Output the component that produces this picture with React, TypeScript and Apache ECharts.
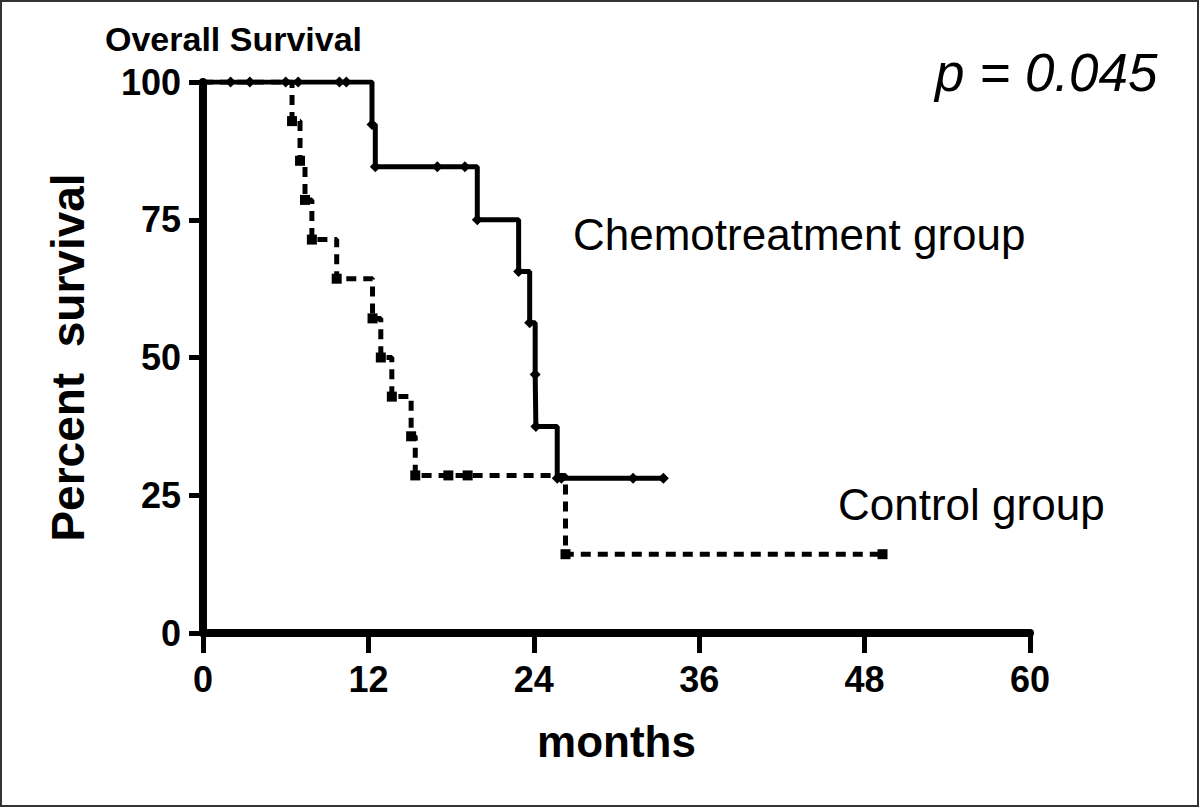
import React, { useEffect, useRef } from "react";
import * as echarts from "echarts";

// Kaplan-Meier steps [months, percent survival]; repeated values are censor marks
const chemoMonths = [0, 2.0, 3.4, 6.0, 6.9, 9.9, 10.4, 12.26, 12.5, 17.0, 19.0, 19.9, 22.9, 23.7, 24.1, 24.15, 25.7, 26.0, 31.2, 33.4];
const chemoSurvival = [100, 100, 100, 100, 100, 100, 100, 92.3, 84.6, 84.6, 84.6, 75.0, 65.6, 56.3, 46.9, 37.5, 28.1, 28.1, 28.1, 28.1];

const controlMonths = [0, 6.46, 7.04, 7.4, 7.9, 9.7, 12.3, 12.9, 13.7, 15.1, 15.4, 17.8, 19.2, 26.3, 49.3];
const controlSurvival = [100, 92.9, 85.7, 78.6, 71.4, 64.3, 57.1, 50.0, 42.9, 35.7, 28.6, 28.6, 28.6, 14.3, 14.3];

const xTicks = [0, 12, 24, 36, 48, 60];
const yTicks = [0, 25, 50, 75, 100];

const FONT = '"Liberation Sans", Arial, sans-serif';

export default function App() {
  const ref = useRef<HTMLDivElement>(null);
  useEffect(() => {
    if (!ref.current) return;
    const chart = echarts.init(ref.current, null, { renderer: "svg" });
    const toData = (ms: number[], ss: number[]) =>
      ms.map((m, i) => (i === 0 ? { value: [m, ss[i]], symbol: "none" } : { value: [m, ss[i]] }));
    chart.setOption({
      animation: false,
      backgroundColor: "#ffffff",
      grid: { left: 203, right: 170, top: 82, bottom: 175, containLabel: false },
      xAxis: {
        type: "value",
        min: xTicks[0],
        max: xTicks[xTicks.length - 1],
        interval: 12,
        name: "months",
        nameLocation: "middle",
        nameGap: 86,
        nameTextStyle: { fontFamily: FONT, fontWeight: "bold", fontSize: 44, color: "#000" },
        axisLine: { show: true, onZero: false, lineStyle: { color: "#000", width: 8 } },
        axisTick: { show: true, inside: false, length: 20, lineStyle: { color: "#000", width: 5 } },
        axisLabel: { margin: 28, fontFamily: FONT, fontWeight: "bold", fontSize: 36, color: "#000" },
        splitLine: { show: false },
      },
      yAxis: {
        type: "value",
        min: yTicks[0],
        max: yTicks[yTicks.length - 1],
        interval: 25,
        name: "Percent  survival",
        nameLocation: "middle",
        nameGap: 112,
        nameRotate: 90,
        nameTextStyle: { fontFamily: FONT, fontWeight: "bold", fontSize: 46, color: "#000" },
        axisLine: { show: true, onZero: false, lineStyle: { color: "#000", width: 8 } },
        axisTick: { show: true, length: 14, lineStyle: { color: "#000", width: 5 } },
        axisLabel: { margin: 22, fontFamily: FONT, fontWeight: "bold", fontSize: 36, color: "#000" },
        splitLine: { show: false },
      },
      series: [
        {
          name: "Chemotreatment group",
          type: "line",
          step: "end",
          data: toData(chemoMonths, chemoSurvival),
          lineStyle: { color: "#000", width: 5 },
          symbol: "diamond",
          symbolSize: 11,
          showSymbol: true,
          itemStyle: { color: "#000" },
          z: 3,
        },
        {
          name: "Control group",
          type: "line",
          step: "end",
          data: toData(controlMonths, controlSurvival),
          lineStyle: { color: "#000", width: 5, type: [10, 7] },
          symbol: "rect",
          symbolSize: 10,
          showSymbol: true,
          itemStyle: { color: "#000" },
          z: 2,
        },
      ],
      graphic: [
        {
          type: "rect",
          shape: { x: 1, y: 1, width: 1197, height: 805 },
          style: { fill: "none", stroke: "#333", lineWidth: 2 },
          silent: true,
        },
        {
          type: "text",
          left: 105,
          top: 22,
          style: { text: "Overall Survival", font: `bold 34px ${FONT}`, fill: "#000" },
        },
        {
          type: "text",
          left: 935,
          top: 46,
          style: { text: "p = 0.045", font: `italic 53px ${FONT}`, fill: "#000" },
        },
        {
          type: "text",
          left: 573,
          top: 212,
          style: { text: "Chemotreatment group", font: `44px ${FONT}`, fill: "#000" },
        },
        {
          type: "text",
          left: 838,
          top: 482,
          style: { text: "Control group", font: `44px ${FONT}`, fill: "#000" },
        },
      ],
    });
    return () => chart.dispose();
  }, []);
  return (
    <div
      ref={ref}
      style={{ position: "absolute", left: 0, top: 0, width: 1200, height: 808, background: "#fff" }}
    />
  );
}
